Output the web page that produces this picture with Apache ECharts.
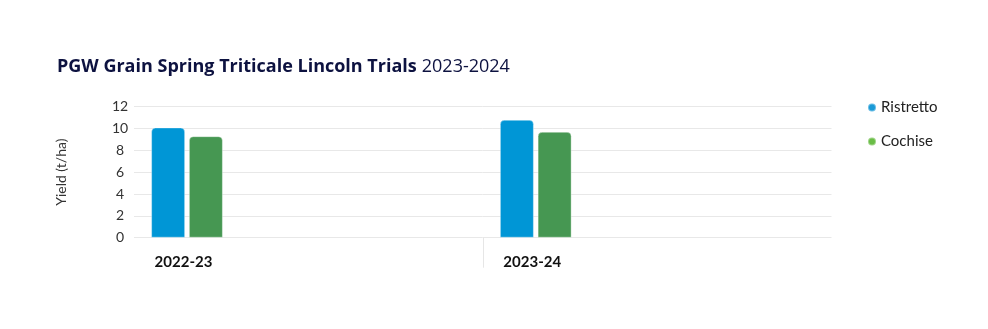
<!DOCTYPE html>
<html>
<head>
<meta charset="utf-8">
<script src="https://cdn.jsdelivr.net/npm/echarts@6/dist/echarts.min.js"></script>
<style>
html,body{margin:0;padding:0;background:#fff;}
#chart{width:988px;height:329px;}
</style>
</head>
<body>
<div id="chart"></div>
<script>
const categories = ['2022-23', '2023-24'];
const ristretto = [10.1, 10.8];
const cochise = [9.3, 9.7];
const yTicks = [0, 2, 4, 6, 8, 10, 12];
const seriesNames = ['Ristretto', 'Cochise'];

const FONT = 'Lato, "Open Sans", sans-serif';
const TFONT = '"Open Sans", Lato, sans-serif';
const chart = echarts.init(document.getElementById('chart'), null, {renderer: 'canvas'});

const option = {
  animation: false,
  backgroundColor: '#ffffff',
  title: {
    left: 52,
    top: 53,
    text: '{b|PGW Grain Spring Triticale Lincoln Trials} {n|2023-2024}',
    textStyle: {
      rich: {
        b: {fontFamily: TFONT, fontSize: 18, fontWeight: 'bold', color: '#0d1240'},
        n: {fontFamily: TFONT, fontSize: 18, fontWeight: 'normal', color: '#0d1240'}
      }
    }
  },
  legend: {
    orient: 'vertical',
    left: 862,
    top: 95,
    itemWidth: 8,
    itemHeight: 8,
    itemGap: 19,
    icon: 'circle',
    textStyle: {fontFamily: FONT, fontSize: 15, color: '#222'},
    data: [
      {name: seriesNames[0], itemStyle: {color: '#1a9ad7'}},
      {name: seriesNames[1], itemStyle: {color: '#6abd46'}}
    ]
  },
  grid: {left: 134, right: 156.5, top: 106.7, bottom: 91.3, containLabel: false},
  xAxis: {
    type: 'category',
    data: categories,
    axisLine: {show: false},
    axisTick: {show: false},
    axisLabel: {
      fontFamily: FONT, fontSize: 15, fontWeight: 'bold', color: '#111',
      align: 'right', padding: [0, 96, 0, 0], margin: 17
    }
  },
  yAxis: {
    type: 'value',
    min: yTicks[0],
    max: yTicks[yTicks.length - 1],
    interval: 2,
    name: 'Yield (t/ha)',
    nameLocation: 'middle',
    nameGap: 66,
    nameTextStyle: {fontFamily: FONT, fontSize: 14, color: '#333'},
    axisLine: {show: false},
    axisTick: {show: false},
    axisLabel: {fontFamily: FONT, fontSize: 14, color: '#333', align: 'center', margin: 14},
    splitLine: {lineStyle: {color: '#e8e8e8', width: 1}}
  },
  series: [
    {
      name: seriesNames[0], type: 'bar', data: ristretto, barWidth: 34, barGap: '11%',
      itemStyle: {color: '#0096d6', borderRadius: [4, 4, 0, 0], borderColor: 'rgba(255,255,255,0.35)', borderWidth: 1}
    },
    {
      name: seriesNames[1], type: 'bar', data: cochise, barWidth: 34, barGap: '11%',
      itemStyle: {color: '#469752', borderRadius: [4, 4, 0, 0], borderColor: 'rgba(255,255,255,0.35)', borderWidth: 1}
    },
    {
      name: '_spacer', type: 'bar', data: [0, 0], barWidth: 239, barGap: '11%', silent: true,
      itemStyle: {color: 'rgba(0,0,0,0)'}, tooltip: {show: false}
    }
  ]
};
chart.setOption(option);

// category boundary tick below the axis
const c0 = chart.convertToPixel({xAxisIndex: 0}, categories[0]);
const c1 = chart.convertToPixel({xAxisIndex: 0}, categories[1]);
const y0 = chart.convertToPixel({yAxisIndex: 0}, 0);
const bx = Math.round((c0 + c1) / 2) + 0.5;
chart.setOption({
  graphic: [{
    type: 'line', silent: true,
    shape: {x1: bx, y1: y0, x2: bx, y2: y0 + 30},
    style: {stroke: '#e6e6e6', lineWidth: 1}
  }]
});
</script>
</body>
</html>
